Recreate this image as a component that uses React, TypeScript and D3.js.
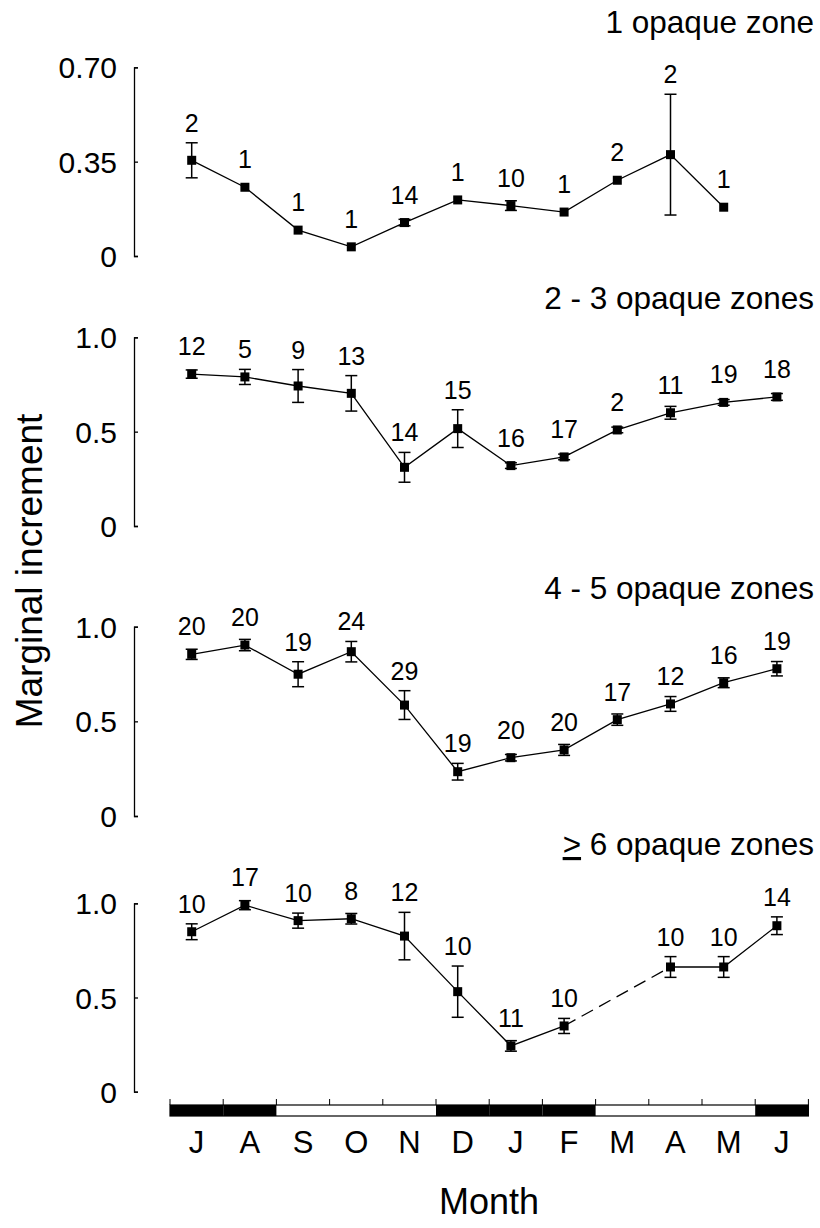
import { useEffect, useRef } from "react";
import * as d3 from "d3";

// Month axis (July -> June)
const months = ["J", "A", "S", "O", "N", "D", "J", "F", "M", "A", "M", "J"];
// filled (black) months on the bar under the x axis
const darkMonths = [true, true, false, false, false, true, true, true, false, false, false, true];

// 1 opaque zone
const zone1Mean = [0.355, 0.255, 0.096, 0.034, 0.124, 0.208, 0.187, 0.163, 0.281, 0.376, 0.181, null];
const zone1Err = [0.065, 0, 0, 0, 0.012, 0, 0.018, 0, 0, 0.224, 0, null];
const zone1N = [2, 1, 1, 1, 14, 1, 10, 1, 2, 2, 1, null];

// 2 - 3 opaque zones
const zone23Mean = [0.805, 0.79, 0.742, 0.703, 0.311, 0.516, 0.32, 0.366, 0.509, 0.6, 0.655, 0.684];
const zone23Err = [0.022, 0.04, 0.087, 0.094, 0.079, 0.1, 0.015, 0.015, 0.015, 0.034, 0.015, 0.018];
const zone23N = [12, 5, 9, 13, 14, 15, 16, 17, 2, 11, 19, 18];

// 4 - 5 opaque zones
const zone45Mean = [0.854, 0.903, 0.749, 0.868, 0.586, 0.234, 0.308, 0.349, 0.509, 0.592, 0.704, 0.778];
const zone45Err = [0.027, 0.03, 0.066, 0.054, 0.076, 0.044, 0.017, 0.029, 0.03, 0.039, 0.026, 0.038];
const zone45N = [20, 20, 19, 24, 29, 19, 20, 20, 17, 12, 16, 19];

// >= 6 opaque zones (no sample in March)
const zone6Mean = [0.849, 0.99, 0.908, 0.918, 0.826, 0.531, 0.243, 0.349, null, 0.662, 0.662, 0.881];
const zone6Err = [0.042, 0.024, 0.04, 0.028, 0.126, 0.136, 0.028, 0.04, null, 0.055, 0.055, 0.047];
const zone6N = [10, 17, 10, 8, 12, 10, 11, 10, null, 10, 10, 14];

const ticks1 = [0, 0.35, 0.7];
const tickLabels1 = ["0", "0.35", "0.70"];
const ticksUnit = [0, 0.5, 1];
const tickLabelsUnit = ["0", "0.5", "1.0"];

const FONT = "'Liberation Sans', Arial, Helvetica, sans-serif";

type Panel = {
  title: string;
  mean: (number | null)[];
  err: (number | null)[];
  n: (number | null)[];
  max: number;
  ticks: number[];
  tickLabels: string[];
  y0: number; // pixel of 0
  y1: number; // pixel of max
  titleY: number;
  geq?: boolean;
};

const panels: Panel[] = [
  { title: "1 opaque zone", mean: zone1Mean, err: zone1Err, n: zone1N, max: 0.7, ticks: ticks1, tickLabels: tickLabels1, y0: 256, y1: 67.3, titleY: 33 },
  { title: "2 - 3 opaque zones", mean: zone23Mean, err: zone23Err, n: zone23N, max: 1, ticks: ticksUnit, tickLabels: tickLabelsUnit, y0: 526, y1: 337.3, titleY: 309 },
  { title: "4 - 5 opaque zones", mean: zone45Mean, err: zone45Err, n: zone45N, max: 1, ticks: ticksUnit, tickLabels: tickLabelsUnit, y0: 816, y1: 626.7, titleY: 599 },
  { title: " 6 opaque zones", mean: zone6Mean, err: zone6Err, n: zone6N, max: 1, ticks: ticksUnit, tickLabels: tickLabelsUnit, y0: 1091.7, y1: 903.3, titleY: 855, geq: true },
];

export default function App() {
  const svgRef = useRef<SVGSVGElement>(null);

  useEffect(() => {
    if (!svgRef.current) return;
    const svg = d3.select(svgRef.current);
    svg.selectAll("*").remove();

    const idx = months.map((_, i) => i);
    const xBand = d3.scaleBand<number>().domain(idx).range([170, 808.4]).padding(0);
    const xPt = d3.scalePoint<number>().domain(idx).range([191.7, 776.9]);

    panels.forEach(p => {
      const y = d3.scaleLinear().domain([0, p.max]).range([p.y0, p.y1]);
      const g = svg.append("g");

      // y axis, ticks pointing inward
      const axis = g.append("g")
        .attr("transform", "translate(134,0)")
        .call(d3.axisLeft(y)
          .tickValues(p.ticks)
          .tickFormat((_, i) => p.tickLabels[i])
          .tickSizeInner(-4)
          .tickSizeOuter(-4)
          .tickPadding(17));
      axis.select(".domain").attr("stroke", "#000").attr("stroke-width", 1.3);
      axis.selectAll(".tick line").attr("stroke", "#000").attr("stroke-width", 1.3);
      axis.selectAll(".tick text")
        .attr("fill", "#000")
        .attr("font-size", 30)
        .attr("font-family", FONT)
        .attr("dy", "0.35em");

      // panel title
      const t = g.append("text")
        .attr("x", 814)
        .attr("y", p.titleY)
        .attr("text-anchor", "end")
        .attr("font-size", 31.5)
        .attr("font-family", FONT)
        .attr("fill", "#000");
      if (p.geq) {
        t.append("tspan").attr("text-decoration", "underline").text(">");
      }
      t.append("tspan").text(p.title);

      const pts = idx
        .filter(i => p.mean[i] != null)
        .map(i => ({ i, v: p.mean[i] as number, e: (p.err[i] ?? 0) as number, n: p.n[i] }));

      // solid line across consecutive months
      const line = d3.line<number>()
        .defined(i => p.mean[i] != null)
        .x(i => xPt(i)!)
        .y(i => y(p.mean[i] as number));
      g.append("path")
        .attr("d", line(idx.slice(0, pts[pts.length - 1].i + 1)))
        .attr("fill", "none")
        .attr("stroke", "#000")
        .attr("stroke-width", 1.3);

      // dashed line bridging missing months
      for (let k = 1; k < pts.length; k++) {
        if (pts[k].i - pts[k - 1].i > 1) {
          g.append("line")
            .attr("x1", xPt(pts[k - 1].i)!)
            .attr("y1", y(pts[k - 1].v))
            .attr("x2", xPt(pts[k].i)!)
            .attr("y2", y(pts[k].v))
            .attr("stroke", "#000")
            .attr("stroke-width", 1.3)
            .attr("stroke-dasharray", "13,7");
        }
      }

      // error bars
      pts.filter(d => d.e > 0).forEach(d => {
        const cx = xPt(d.i)!;
        const top = y(d.v + d.e);
        const bot = y(d.v - d.e);
        const eg = g.append("g").attr("stroke", "#000").attr("stroke-width", 1.5);
        eg.append("line").attr("x1", cx).attr("x2", cx).attr("y1", top).attr("y2", bot);
        eg.append("line").attr("x1", cx - 6).attr("x2", cx + 6).attr("y1", top).attr("y2", top);
        eg.append("line").attr("x1", cx - 6).attr("x2", cx + 6).attr("y1", bot).attr("y2", bot);
      });

      // markers
      g.selectAll(".mk")
        .data(pts)
        .enter().append("rect")
        .attr("x", d => xPt(d.i)! - 4.5)
        .attr("y", d => y(d.v) - 4.5)
        .attr("width", 9)
        .attr("height", 9)
        .attr("fill", "#000");

      // sample sizes
      g.selectAll(".n")
        .data(pts)
        .enter().append("text")
        .attr("x", d => xPt(d.i)!)
        .attr("y", d => Math.min(y(d.v) - 19, y(d.v + d.e) - 11))
        .attr("text-anchor", "middle")
        .attr("font-size", 25)
        .attr("font-family", FONT)
        .attr("fill", "#000")
        .text(d => String(d.n));
    });

    // season bar under the bottom panel
    const barTop = 1105;
    const barH = 11;
    const bar = svg.append("g");
    bar.selectAll(".season")
      .data(idx.filter(i => darkMonths[i]))
      .enter().append("rect")
      .attr("x", i => xBand(i)!)
      .attr("y", barTop)
      .attr("width", xBand.bandwidth())
      .attr("height", barH)
      .attr("fill", "#000");
    const [bx0, bx1] = xBand.range();
    bar.append("rect")
      .attr("x", bx0)
      .attr("y", barTop)
      .attr("width", bx1 - bx0)
      .attr("height", barH)
      .attr("fill", "none")
      .attr("stroke", "#000")
      .attr("stroke-width", 1.2);
    const bounds = [...idx.map(i => xBand(i)!), bx1];
    bar.selectAll(".btick")
      .data(bounds)
      .enter().append("line")
      .attr("x1", d => d)
      .attr("x2", d => d)
      .attr("y1", barTop - 6)
      .attr("y2", barTop)
      .attr("stroke", "#000")
      .attr("stroke-width", 1);

    bar.selectAll(".mlab")
      .data(idx)
      .enter().append("text")
      .attr("x", i => xBand(i)! + xBand.bandwidth() / 2)
      .attr("y", 1152.7)
      .attr("text-anchor", "middle")
      .attr("font-size", 31)
      .attr("font-family", FONT)
      .attr("fill", "#000")
      .text(i => months[i]);

    // axis titles
    svg.append("text")
      .attr("x", 489)
      .attr("y", 1214)
      .attr("text-anchor", "middle")
      .attr("font-size", 36)
      .attr("font-family", FONT)
      .attr("fill", "#000")
      .text("Month");

    svg.append("text")
      .attr("transform", "translate(42,571) rotate(-90)")
      .attr("text-anchor", "middle")
      .attr("font-size", 37)
      .attr("font-family", FONT)
      .attr("fill", "#000")
      .text("Marginal increment");
  }, []);

  return (
    <svg
      ref={svgRef}
      width={820}
      height={1228}
      style={{ position: "absolute", left: 0, top: 0, background: "#fff" }}
    />
  );
}
